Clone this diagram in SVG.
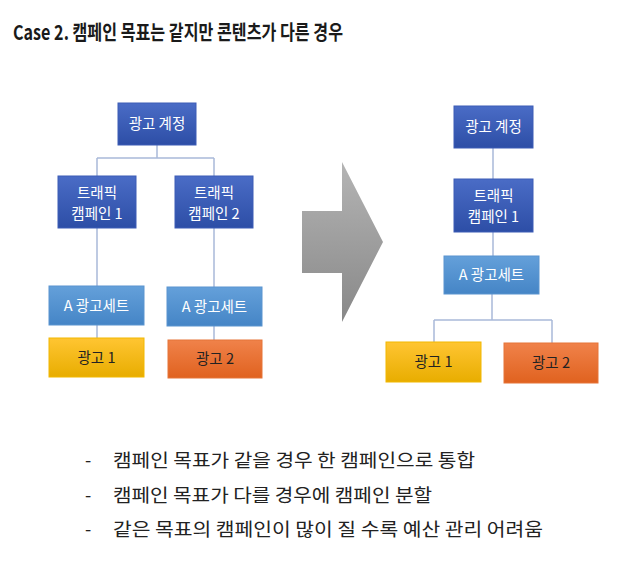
<svg xmlns="http://www.w3.org/2000/svg" width="640" height="567" viewBox="0 0 640 567">
<defs>
<linearGradient id="gDark" x1="0" y1="0" x2="0" y2="1"><stop offset="0" stop-color="#4a6cc6"/><stop offset="1" stop-color="#2d4ea6"/></linearGradient>
<linearGradient id="gLight" x1="0" y1="0" x2="0" y2="1"><stop offset="0" stop-color="#64a0da"/><stop offset="1" stop-color="#4585c6"/></linearGradient>
<linearGradient id="gYellow" x1="0" y1="0" x2="0" y2="1"><stop offset="0" stop-color="#ffc532"/><stop offset="1" stop-color="#e8ad00"/></linearGradient>
<linearGradient id="gOrange" x1="0" y1="0" x2="0" y2="1"><stop offset="0" stop-color="#f0824a"/><stop offset="1" stop-color="#e0621f"/></linearGradient>
<linearGradient id="gArrow" x1="0" y1="0" x2="0" y2="1"><stop offset="0" stop-color="#b4b4b4"/><stop offset="1" stop-color="#888888"/></linearGradient>
</defs>
<style>
text{font-family:"Noto Sans CJK KR","Noto Sans",sans-serif}
.title{font-size:20.5px;font-weight:600;fill:#1a1a1a}
.bullet{font-size:18px;fill:#222}
.nt{font-size:14.5px;fill:#fff;text-anchor:middle}
.nb{font-size:14.5px;fill:#222;text-anchor:middle}
.dark{fill:url(#gDark);stroke:#3c5db6;stroke-width:1}
.light{fill:url(#gLight);stroke:#5a94cf;stroke-width:1}
.yellow{fill:url(#gYellow);stroke:#f2b800;stroke-width:1}
.orange{fill:url(#gOrange);stroke:#e67538;stroke-width:1}
.conn{fill:none;stroke:#a9b9d9;stroke-width:1.5}
</style>
<rect width="640" height="567" fill="#fff"/>
<text class="title" x="13" y="40" textLength="330" lengthAdjust="spacingAndGlyphs">Case 2. 캠페인 목표는 같지만 콘텐츠가 다른 경우</text>

<g id="connectors">
<path class="conn" d="M157,145 V158 M97,158 H214 M97,158 V176 M214,158 V176"/>
<path class="conn" d="M97,228 V286 M214,228 V287"/>
<path class="conn" d="M97,325 V338 M214,326 V340"/>
<path class="conn" d="M493,148 V179 M493,232 V256"/>
<path class="conn" d="M492,294 V320 M434,320 H552 M434,320 V342 M552,320 V343"/>
</g>

<g id="arrow">
<polygon points="302,211 342,211 342,162 383,242 342,322 342,273 302,273" fill="url(#gArrow)"/>
</g>

<g id="L-account"><rect class="dark" x="118" y="103" width="78" height="42"/><text class="nt" x="157" y="129">광고 계정</text></g>
<g id="L-camp1"><rect class="dark" x="58" y="176" width="78" height="52"/><text class="nt"><tspan x="97" y="197.5">트래픽</tspan><tspan x="97" y="218.5">캠페인 1</tspan></text></g>
<g id="L-camp2"><rect class="dark" x="175" y="176" width="78" height="52"/><text class="nt"><tspan x="214" y="197.5">트래픽</tspan><tspan x="214" y="218.5">캠페인 2</tspan></text></g>
<g id="L-adset1"><rect class="light" x="49" y="286" width="95" height="39"/><text class="nt" x="96.5" y="310.5">A 광고세트</text></g>
<g id="L-adset2"><rect class="light" x="167" y="287" width="95" height="39"/><text class="nt" x="214.5" y="311.5">A 광고세트</text></g>
<g id="L-ad1"><rect class="yellow" x="49" y="338" width="95" height="39"/><text class="nb" x="96.5" y="362.5">광고 1</text></g>
<g id="L-ad2"><rect class="orange" x="168" y="340" width="94" height="38"/><text class="nb" x="215" y="364">광고 2</text></g>

<g id="R-account"><rect class="dark" x="454" y="106" width="79" height="42"/><text class="nt" x="493.5" y="132">광고 계정</text></g>
<g id="R-camp1"><rect class="dark" x="454" y="179" width="79" height="53"/><text class="nt"><tspan x="493.5" y="200.5">트래픽</tspan><tspan x="493.5" y="221.5">캠페인 1</tspan></text></g>
<g id="R-adset"><rect class="light" x="444" y="256" width="95" height="38"/><text class="nt" x="491.5" y="280">A 광고세트</text></g>
<g id="R-ad1"><rect class="yellow" x="386" y="342" width="95" height="40"/><text class="nb" x="433.5" y="367">광고 1</text></g>
<g id="R-ad2"><rect class="orange" x="504" y="343" width="94" height="40"/><text class="nb" x="551" y="368">광고 2</text></g>

<g id="bullets">
<text class="bullet" x="85" y="467">-</text>
<text class="bullet" x="113" y="467" textLength="362" lengthAdjust="spacingAndGlyphs">캠페인 목표가 같을 경우 한 캠페인으로 통합</text>
<text class="bullet" x="85" y="502">-</text>
<text class="bullet" x="113" y="502" textLength="319" lengthAdjust="spacingAndGlyphs">캠페인 목표가 다를 경우에 캠페인 분할</text>
<text class="bullet" x="85" y="536">-</text>
<text class="bullet" x="113" y="536" textLength="430" lengthAdjust="spacingAndGlyphs">같은 목표의 캠페인이 많이 질 수록 예산 관리 어려움</text>
</g>
</svg>
